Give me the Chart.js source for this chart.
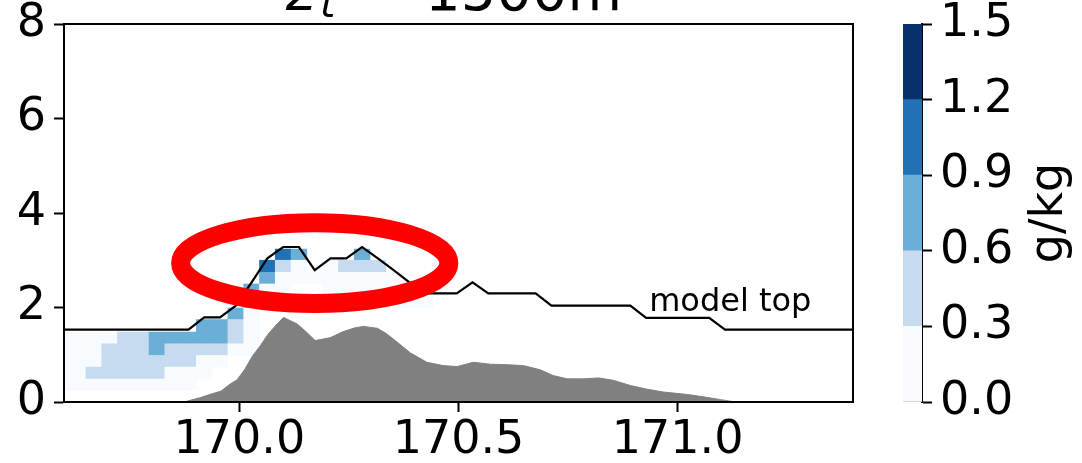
<!DOCTYPE html>
<html>
<head>
<meta charset="utf-8">
<script src="https://cdn.jsdelivr.net/npm/chart.js@4.4.0/dist/chart.umd.min.js"></script>
<style>
  html, body { margin: 0; padding: 0; background: #fff; }
  #wrap { position: relative; width: 1082px; height: 463px; }
  #wrap canvas { position: absolute; left: 0; top: 0; }
</style>
</head>
<body>
<div id="wrap">
  <canvas id="section" width="1082" height="463"></canvas>
  <canvas id="colorbar" width="1082" height="463"></canvas>
</div>
<script>
// model column centres (deg E)
const gridLon = [
  169.596, 169.632, 169.668, 169.704, 169.740, 169.776, 169.812, 169.848, 169.884, 169.920,
  169.956, 169.992, 170.028, 170.064, 170.100, 170.136, 170.172, 170.208, 170.244, 170.280,
  170.316, 170.352, 170.388, 170.424, 170.460, 170.496, 170.532, 170.568, 170.604, 170.640,
  170.676, 170.712, 170.748, 170.784, 170.820, 170.856, 170.892, 170.928, 170.964, 171.000,
  171.036, 171.072, 171.108, 171.144, 171.180, 171.216, 171.252, 171.288, 171.324, 171.360,
  171.396, 171.432,
];

// height of the model top at each column (km)
const modelTop = [
  1.53, 1.53, 1.53, 1.53, 1.53, 1.53, 1.53, 1.53, 1.53, 1.79,
  1.79, 2.04, 2.53, 3.04, 3.28, 3.28, 2.79, 3.04, 3.04, 3.28,
  3.04, 2.79, 2.53, 2.30, 2.30, 2.30, 2.53, 2.30, 2.30, 2.30,
  2.30, 2.04, 2.04, 2.04, 2.04, 2.04, 2.04, 1.78, 1.78, 1.78,
  1.78, 1.78, 1.53, 1.53, 1.53, 1.53, 1.53, 1.53, 1.53, 1.53,
  1.53, 1.53,
];

// model level edges (km)
const levelEdges = [0, 0.247, 0.485, 0.738, 0.985, 1.232, 1.48, 1.745, 1.99, 2.25, 2.498, 2.745, 3.0, 3.236];

// cloud water (g/kg) per level, levels 1..12, columns 0..23
const _ = null;
const qcGrid = [
  [.15, .15, .15, .15, .15, .15, .15, .15, .15, _, _, _, _, _, _, _, _, _, _, _, _, _, _, _],
  [.15, .15, .45, .45, .45, .45, .45, .15, .15, .15, _, _, _, _, _, _, _, _, _, _, _, _, _, _],
  [.15, .15, .15, .45, .45, .45, .45, .45, .45, .15, .15, _, _, _, _, _, _, _, _, _, _, _, _, _],
  [.15, .15, .15, .45, .45, .45, .75, .45, .45, .45, .45, .15, .15, _, _, _, _, _, _, _, _, _, _, _],
  [.15, .15, .15, .15, .45, .45, .75, .75, .75, .75, .75, .45, .15, _, _, _, _, _, _, _, _, _, _, _],
  [_, _, _, _, _, _, _, _, _, .75, .75, .45, .15, _, _, _, _, _, _, _, _, _, _, _],
  [_, _, _, _, _, _, _, _, _, _, _, .75, .15, _, _, _, _, _, _, _, _, _, _, _],
  [_, _, _, _, _, _, _, _, _, _, _, _, .75, .15, .15, .15, .15, .15, .15, .15, .15, .15, .15, .15],
  [_, _, _, _, _, _, _, _, _, _, _, _, .75, .15, .15, _, _, .15, .15, .15, .15, .15, .15, _],
  [_, _, _, _, _, _, _, _, _, _, _, _, _, .75, .15, .15, .15, .15, .15, .15, .15, .15, _, _],
  [_, _, _, _, _, _, _, _, _, _, _, _, _, 1.05, .45, .15, _, .15, .45, .45, .45, _, _, _],
  [_, _, _, _, _, _, _, _, _, _, _, _, _, _, 1.05, .75, _, _, _, .75, _, _, _, _],
];

// terrain profile
const terrainLon = [
  169.874, 169.910, 169.933, 169.958, 169.979, 169.995, 170.013, 170.029, 170.047, 170.066,
  170.084, 170.101, 170.132, 170.153, 170.173, 170.207, 170.237, 170.264, 170.283, 170.315,
  170.335, 170.353, 170.390, 170.428, 170.465, 170.497, 170.534, 170.573, 170.611, 170.648,
  170.687, 170.716, 170.748, 170.785, 170.819, 170.853, 170.892, 170.931, 170.968, 171.022,
  171.059, 171.098, 171.132,
];
const terrainZ = [
  0, 0.09, 0.16, 0.23, 0.38, 0.47, 0.70, 0.96, 1.18, 1.44,
  1.63, 1.79, 1.65, 1.48, 1.30, 1.36, 1.49, 1.57, 1.60, 1.56,
  1.45, 1.32, 1.04, 0.84, 0.77, 0.75, 0.84, 0.80, 0.79, 0.77,
  0.68, 0.56, 0.49, 0.49, 0.51, 0.46, 0.35, 0.27, 0.21, 0.16,
  0.11, 0.05, 0,
];

const xTicks = [170.0, 170.5, 171.0];
const yTicks = [0, 2, 4, 6, 8];
const cbBounds = [0, 0.3, 0.6, 0.9, 1.2, 1.5];
const cbColors = ['#f7fbff', '#c6dbef', '#6baed6', '#2171b5', '#08306b'];

// red highlight ring and label, in data units
const ring = { lon: 170.172, z: 2.94, dLon: 0.306, dZ: 0.856 };
const topLabel = { lon: 170.935, z: 1.928, text: 'model top' };

const FONT = 'DejaVu Sans';
const tickFont = { family: FONT, size: 46, lineHeight: 1 };

const qcColor = (v) => {
  for (let i = 0; i < cbColors.length; i++) {
    if (v < cbBounds[i + 1]) return cbColors[i];
  }
  return cbColors[cbColors.length - 1];
};

// Chart.js reserves room for half the end labels; the axes here sit flush, so drop it.
const noEndPadding = (scale) => {
  scale.paddingTop = 0;
  scale.paddingBottom = 0;
};

const cellDatasets = qcGrid.map((row, i) => ({
  type: 'bar',
  order: 3,
  data: row
    .map((v, k) => (v === null ? null : { x: gridLon[k], y: [levelEdges[i + 1], levelEdges[i + 2]], v }))
    .filter(Boolean),
  backgroundColor: (ctx) => (ctx.raw ? qcColor(ctx.raw.v) : cbColors[0]),
  borderWidth: 0,
  grouped: false,
  barPercentage: 1,
  categoryPercentage: 1,
}));

const terrainDataset = {
  type: 'line',
  order: 2,
  data: terrainLon.map((x, i) => ({ x, y: terrainZ[i] })),
  borderColor: '#808080',
  backgroundColor: '#808080',
  borderWidth: 1,
  pointRadius: 0,
  fill: 'origin',
  tension: 0,
};

const modelTopDataset = {
  type: 'line',
  order: 1,
  data: gridLon.map((x, i) => ({ x, y: modelTop[i] })),
  borderColor: '#000',
  borderWidth: 2.2,
  pointRadius: 0,
  fill: false,
  tension: 0,
};

const sectionDecor = {
  id: 'sectionDecor',
  afterDraw: (chart) => {
    const { ctx, chartArea, scales } = chart;
    const { x, y } = scales;
    ctx.save();

    // highlight ring
    const cx = x.getPixelForValue(ring.lon);
    const cy = y.getPixelForValue(ring.z);
    const rx = x.getPixelForValue(ring.lon + ring.dLon) - cx;
    const ry = cy - y.getPixelForValue(ring.z + ring.dZ);
    ctx.beginPath();
    ctx.ellipse(cx, cy, rx, ry, 0, 0, Math.PI * 2);
    ctx.lineWidth = 19;
    ctx.strokeStyle = '#ff0000';
    ctx.stroke();

    // model top label
    ctx.fillStyle = '#000';
    ctx.font = `32px "${FONT}"`;
    ctx.textAlign = 'left';
    ctx.textBaseline = 'alphabetic';
    ctx.fillText(topLabel.text, x.getPixelForValue(topLabel.lon), y.getPixelForValue(topLabel.z));

    // axes frame
    ctx.lineWidth = 2;
    ctx.strokeStyle = '#000';
    ctx.strokeRect(chartArea.left, chartArea.top, chartArea.right - chartArea.left, chartArea.bottom - chartArea.top);

    // title (clipped at the top of the figure)
    ctx.font = `italic 56px "${FONT}"`;
    ctx.fillText('z', 286, 10);
    ctx.font = `italic 39px "${FONT}"`;
    ctx.fillText('t', 320, 17);
    ctx.font = `56px "${FONT}"`;
    ctx.fillText('=', 352, 10);
    ctx.fillText('1500m', 425, 10);
    ctx.restore();
  },
};

new Chart(document.getElementById('section'), {
  type: 'bar',
  data: { datasets: [modelTopDataset, terrainDataset, ...cellDatasets] },
  options: {
    responsive: false,
    animation: false,
    events: [],
    layout: { padding: { left: 0, top: 24, right: 229, bottom: 0 } },
    plugins: { legend: { display: false }, tooltip: { enabled: false } },
    scales: {
      x: {
        type: 'linear',
        min: 169.6,
        max: 171.4,
        offset: false,
        afterBuildTicks: (scale) => {
          scale.ticks = xTicks.map((value) => ({ value }));
        },
        afterFit: (scale) => {
          scale.height = 61;
          scale.paddingLeft = 0;
          scale.paddingRight = 0;
        },
        ticks: {
          autoSkip: false,
          maxRotation: 0,
          color: '#000',
          font: tickFont,
          padding: 6,
          callback: (value) => value.toFixed(1),
        },
        grid: { drawOnChartArea: false, offset: false, tickLength: 10, tickWidth: 2, tickColor: '#000' },
        border: { display: true, color: '#000', width: 2 },
      },
      y: {
        min: 0,
        max: 8,
        afterBuildTicks: (scale) => {
          scale.ticks = yTicks.map((value) => ({ value }));
        },
        afterFit: (scale) => {
          scale.width = 64;
          noEndPadding(scale);
        },
        ticks: {
          autoSkip: false,
          color: '#000',
          font: tickFont,
          padding: 8,
          callback: (value) => `${value}`,
        },
        grid: { drawOnChartArea: false, tickLength: 10, tickWidth: 2, tickColor: '#000' },
        border: { display: true, color: '#000', width: 2 },
      },
    },
  },
  plugins: [sectionDecor],
});

const colorbarLabel = {
  id: 'colorbarLabel',
  afterDraw: (chart) => {
    const { ctx, chartArea } = chart;
    ctx.save();
    ctx.translate(1050, (chartArea.top + chartArea.bottom) / 2);
    ctx.rotate(-Math.PI / 2);
    ctx.fillStyle = '#000';
    ctx.font = `46px "${FONT}"`;
    ctx.textAlign = 'center';
    ctx.textBaseline = 'middle';
    ctx.fillText('g/kg', 0, 0);
    ctx.restore();
  },
};

const barDefaults = { grouped: false, barPercentage: 1, categoryPercentage: 1 };

new Chart(document.getElementById('colorbar'), {
  type: 'bar',
  data: {
    labels: [''],
    datasets: [
      ...cbColors.map((color, i) => ({
        ...barDefaults,
        data: [[cbBounds[i], cbBounds[i + 1]]],
        backgroundColor: color,
        borderWidth: 0,
      })),
      {
        ...barDefaults,
        data: [[cbBounds[0], cbBounds[cbBounds.length - 1]]],
        backgroundColor: 'rgba(0,0,0,0)',
        borderColor: '#000',
        borderWidth: 2,
        borderSkipped: false,
      },
    ],
  },
  options: {
    responsive: false,
    animation: false,
    events: [],
    layout: { padding: { left: 903, top: 24, right: 0, bottom: 61 } },
    plugins: { legend: { display: false }, tooltip: { enabled: false } },
    scales: {
      x: { display: false },
      y: {
        position: 'right',
        min: 0,
        max: 1.5,
        afterBuildTicks: (scale) => {
          scale.ticks = cbBounds.map((value) => ({ value }));
        },
        afterFit: (scale) => {
          scale.width = 160;
          noEndPadding(scale);
        },
        ticks: {
          autoSkip: false,
          color: '#000',
          font: tickFont,
          padding: 8,
          callback: (value) => value.toFixed(1),
        },
        grid: { drawOnChartArea: false, tickLength: 10, tickWidth: 2, tickColor: '#000' },
        border: { display: true, color: '#000', width: 2 },
      },
    },
  },
  plugins: [colorbarLabel],
});
</script>
</body>
</html>
